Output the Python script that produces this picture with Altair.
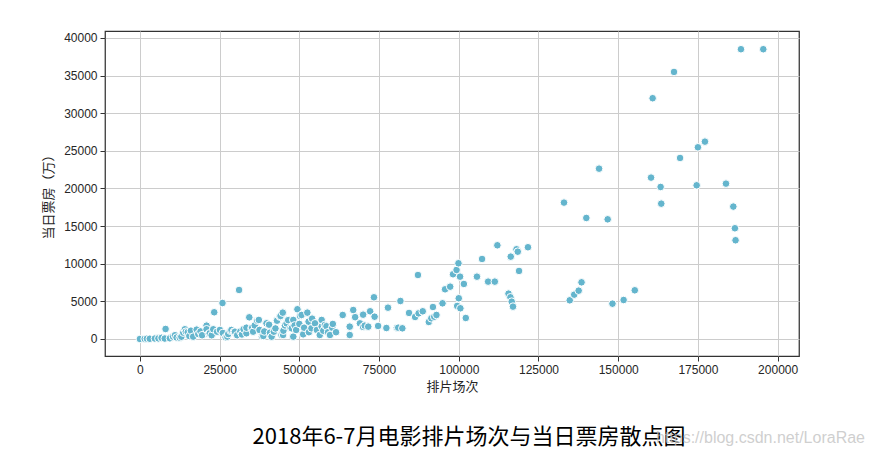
import altair as alt
import pandas as pd

# 排片场次 (x) and 当日票房（万） (y)
screenings = [
    0, 1500, 2200, 3100, 4700, 5800, 6800, 7800, 8050, 9400, 10400, 11000, 11500, 12500,
    13000, 13600, 14100, 14400, 15000, 15500, 16000, 16700, 17800, 18300, 19000, 19500,
    20900, 20900, 21600, 21900, 22500, 23000, 23300, 24200, 25100, 25900, 26000, 26900,
    27400, 27700, 28400, 28700, 29500, 29800, 30500, 31100, 31500, 32000, 32500, 33400,
    33400, 34300, 35000, 35200, 35500, 36000, 36800, 37300, 37500, 38300, 38700, 39000,
    39700, 40500, 40800, 41300, 42000, 42500, 42900, 43000, 43900, 44100, 44400, 44800,
    44900, 45000, 45500, 46000, 46500, 47200, 47600, 48100, 48100, 48500, 49000, 49400,
    50000, 50200, 50700, 51200, 51500, 52500, 52900, 53000, 53800, 54000, 54900, 55500,
    56400, 57000, 57000, 57500, 58000, 58500, 59000, 59600, 60300, 60500, 61500, 63600,
    65800, 65800, 66900, 67500, 69000, 70000, 70000, 70500, 71600, 72200, 73400, 73600,
    74700, 77300, 77800, 80600, 81000, 81700, 82300, 84400, 86300, 87200, 87400, 88700,
    90600, 91400, 91900, 92300, 93000, 94900, 95700, 97300, 98200, 99300, 99500, 99900,
    100000, 100400, 100500, 101600, 102200, 105700, 107300, 109200, 111300, 112100,
    115600, 116200, 116300, 116600, 117000, 118100, 118500, 118900, 121700, 133000,
    134800, 136200, 137600, 138500, 140000, 144000, 146700, 148200, 151700, 155200,
    160300, 160800, 163300, 163500, 167500, 169400, 174600, 175000, 177200, 183800,
    186100, 186600, 186800, 188500, 195500,
]
box_office = [
    0, 20, 40, 30, 60, 80, 150, 60, 1330, 90, 310, 500, 200, 170,
    300, 840, 1290, 970, 900, 400, 1100, 310, 1240, 660, 1000, 500,
    1770, 1290, 660, 760, 500, 1290, 3550, 970, 1200, 4780, 800, 230,
    310, 660, 1100, 1200, 970, 970, 500, 6510, 1000, 600, 1300, 760,
    1500, 2880, 1420, 1500, 970, 1800, 2430, 2530, 1200, 360, 400, 1000,
    2080, 1900, 840, 310, 970, 1400, 2530, 2430, 2970, 3060, 530, 3500,
    530, 1100, 1800, 2080, 2500, 1460, 1420, 310, 2530, 1800, 1200, 3950,
    2000, 3060, 3190, 620, 1500, 3500, 2300, 900, 1420, 2700, 2080, 1200,
    530, 1640, 2530, 1100, 1860, 1700, 900, 530, 1500, 2000, 900, 3190,
    1640, 530, 3850, 2900, 2080, 3230, 1600, 1770, 1640, 3680, 5540, 2960,
    1730, 1460, 4160, 1500, 1500, 5050, 1420, 3460, 2920, 8500, 3410, 3680,
    2260, 2750, 4250, 2960, 3190, 4740, 6600, 6950, 8600, 9170, 4390, 10060,
    5410, 8280, 4080, 7310, 2790, 8280, 10630, 7620, 7620, 12450,
    6020, 5540, 10940, 4960, 4300, 11920, 11600, 9040, 12190, 18120,
    5140, 5890, 6420, 7530, 16080, 22630, 15900, 4690, 5180, 6470,
    21440, 31990, 20200, 17980, 35480, 24050, 20420, 25470, 26220, 20640,
    17590, 14710, 13120, 38500, 38500,
]

x_ticks = [0, 25000, 50000, 75000, 100000, 125000, 150000, 175000, 200000]
y_ticks = [0, 5000, 10000, 15000, 20000, 25000, 30000, 35000, 40000]

title_text = "2018年6-7月电影排片场次与当日票房散点图"
watermark_text = "https://blog.csdn.net/LoraRae"

df = pd.DataFrame({"排片场次": screenings, "当日票房": box_office})

points = alt.Chart(df).mark_point(
    filled=True, shape="circle", size=58, color="#64B5CD",
    stroke="white", strokeWidth=1, opacity=1
).encode(
    x=alt.X("排片场次:Q",
            scale=alt.Scale(domain=[-10950, 206700], nice=False, zero=False),
            axis=alt.Axis(title="排片场次", values=x_ticks, format="d")),
    y=alt.Y("当日票房:Q",
            scale=alt.Scale(domain=[-2260, 40920], nice=False, zero=False),
            axis=alt.Axis(title="当日票房（万）", values=y_ticks, format="d")),
)

label_df = pd.DataFrame({"t": [title_text]})
title = alt.Chart(label_df).mark_text(
    font="Noto Sans CJK SC", fontSize=22, color="black", align="center", baseline="middle"
).encode(text="t:N", x=alt.value(364), y=alt.value(406))

wm_df = pd.DataFrame({"t": [watermark_text]})
watermark = alt.Chart(wm_df).mark_text(
    font="Liberation Sans", fontSize=16, color="#bfbfbf", opacity=0.75,
    align="right", baseline="middle"
).encode(text="t:N", x=alt.value(760), y=alt.value(407))

chart = alt.layer(points, title, watermark).properties(
    width=694, height=325,
    autosize=alt.AutoSizeParams(type="none"),
    padding={"left": 97, "top": 23, "right": 68, "bottom": 93},
    background="white",
).configure_view(
    stroke="#333333", strokeWidth=1.25
).configure_axis(
    grid=True, gridColor="#cccccc", gridWidth=1,
    domain=False, ticks=True, tickColor="#333333", tickSize=5, tickWidth=1,
    labelFont="Liberation Sans", labelFontSize=12, labelColor="#262626",
    titleFont="Noto Sans CJK SC", titleFontSize=13, titleFontWeight="normal",
    titleColor="#262626", labelPadding=3,
).configure_axisX(titlePadding=5).configure_axisY(titlePadding=8)

chart.save("out.html", embed_options={"renderer": "svg", "actions": False})
